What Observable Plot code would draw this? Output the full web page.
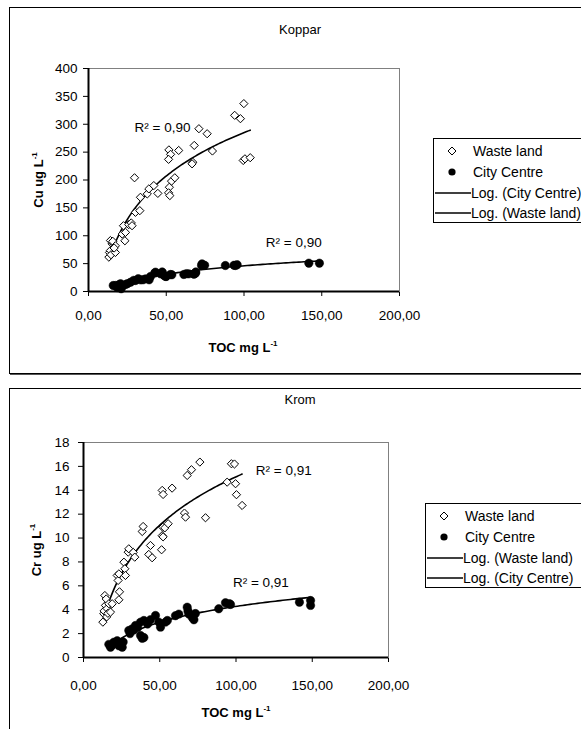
<!DOCTYPE html>
<html><head><meta charset="utf-8">
<script src="https://cdn.jsdelivr.net/npm/d3@7"></script>
<script src="https://cdn.jsdelivr.net/npm/@observablehq/plot@0.6"></script>
<style>
body{margin:0;background:#fff;font-family:"Liberation Sans",Arial,sans-serif;color:#000;}
#root{position:relative;width:581px;height:729px;overflow:hidden;background:#fff;}
.box{position:absolute;border:1px solid #000;box-shadow:1px 1px 0 #555;}
.abs{position:absolute;white-space:nowrap;line-height:1;}
.title{font-size:13px;transform:translate(-50%,-50%);}
.xl{font-size:13px;font-weight:bold;transform:translate(-50%,-50%);}
.yl{font-size:13px;font-weight:bold;transform:translate(-50%,-50%) rotate(-90deg);}
.sup{font-size:8px;vertical-align:6px;line-height:0;}
.legend{position:absolute;border:1px solid #000;background:#fff;width:200px;height:83px;}
.item{position:absolute;font-size:14px;white-space:nowrap;transform:translateY(-50%);line-height:1;}
.plotwrap{position:absolute;left:0;}
</style>
</head><body>
<div id="root">
  <div class="box" style="left:9px;top:7px;width:640px;height:365px;"></div>
  <div class="box" style="left:9px;top:388px;width:640px;height:400px;"></div>
  <div id="p1" class="plotwrap" style="top:0px;"></div>
  <div id="p2" class="plotwrap" style="top:380px;"></div>
</div>
<script>
// ---------- data ----------
const xTicks = [0, 50, 100, 150, 200];
const cuTicks = [0, 50, 100, 150, 200, 250, 300, 350, 400];
const crTicks = [0, 2, 4, 6, 8, 10, 12, 14, 16, 18];

// Koppar (Cu) — [TOC, Cu]
const cuWaste = [[13.1,61.6],[13.5,70],[14.1,73.5],[14.5,66],[15.2,85.5],[14.1,91.4],[15.6,90],[17.3,82],[17.3,70],[16.5,78],
 [21.7,103],[22.5,118],[23.4,91],[23.8,106],[25.9,120],[27.5,123],[28,118],[29.6,204],[30.2,142],[33,145],[33.4,169],
 [37.8,175],[38.8,184],[42,190],[44.6,176],[51.7,254],[52.8,246],[51.5,237],[52,187],[51.5,177],[52.3,172],[53.4,198],
 [55.5,204],[58,253],[67,232],[66.6,229],[68,262],[71,292],[76.3,283],[79.7,252],[94,316],[97.7,310],[99.9,337],
 [99.5,235],[100.6,238],[104,240]];
const cuCity = [[15.9,10.8],[17.4,10.8],[18.5,7],[19.5,12],[20.6,13.8],[21,5],[22,10],[23.8,12.6],[25,14],[27,16.6],
 [29,20],[30.2,19.7],[32,23],[33.4,20.9],[35,21],[36.7,22.7],[39,21],[39.9,27],[42.6,33],[43.1,34.7],[46.3,31.7],
 [47.4,35],[48.5,29],[49.5,27],[50,27],[52.7,30.5],[53.6,30],[61.3,30.5],[63,32],[64.5,31.7],[67.8,31],[68.8,32.9],
 [69,35],[72.7,46.6],[73,49.6],[74.7,47],[88,46.6],[93.6,47],[94.5,46.6],[95.6,48],[141.7,50.8],[148.5,50.8]];
const cuR2 = [{x:29.6, y:294, label:"R² = 0,90"}, {x:114, y:88, label:"R² = 0,90"}];

// Krom (Cr) — [TOC, Cr]
const crWaste = [[12.7,2.96],[13.3,3.66],[13.5,3.9],[14,5.19],[14.4,4.36],[14.9,4.9],[15.2,3.4],[15.5,4.1],[16,3.7],
 [16.6,4.5],[17.7,3.8],[18.8,4.5],[22.1,6.87],[22.7,6.45],[23.2,4.83],[23.2,7.0],[23.6,5.5],[26.5,7.98],[27.1,7.43],
 [27.5,6.87],[29.3,8.82],[29.7,9.1],[32.6,8.8],[33.6,8.4],[38.5,10.55],[39.1,10.97],[42.8,8.63],[43.9,9.38],[45,8.35],
 [51.2,9.02],[51.6,13.99],[52.2,13.65],[52,10.9],[53.3,10.85],[51.6,10.2],[52.2,10.1],[55.5,11.2],[58.1,14.18],
 [66.2,12.09],[66.9,11.75],[68,15.24],[70.8,15.72],[76.3,16.36],[80,11.7],[94.2,14.68],[97,16.22],[99,16.2],
 [99.7,14.55],[100.3,13.63],[104,12.73]];
const crCity = [[16.6,1.1],[17.7,0.86],[18.5,1.0],[19.9,1.28],[21,1.2],[22.1,1.4],[23.2,0.98],[25.4,0.86],[26,1.3],
 [29.7,2.26],[30.5,2.0],[31.9,2.4],[33,2.3],[34.1,2.68],[35.5,2.5],[37.4,2.96],[37.4,1.84],[38.5,1.6],[39.6,3.1],
 [39.6,1.67],[42,2.8],[43.9,3.16],[47.2,3.52],[49.4,2.96],[50.5,2.54],[53.8,2.96],[55,3.1],[60.3,3.5],[62.5,3.63],
 [68,4.21],[68.5,3.9],[69.1,3.63],[71.3,3.35],[72.4,3.16],[73.4,3.68],[88.7,4.08],[93.1,4.58],[95.7,4.5],[96.4,4.44],
 [141.6,4.63],[148.9,4.77],[148.9,4.36]];
const crR2 = [{x:113, y:15.6, label:"R² = 0,91"}, {x:98, y:6.3, label:"R² = 0,91"}];

const legendTop = ["Waste land", "City Centre", "Log. (City Centre)", "Log. (Waste land)"];
const legendBottom = ["Waste land", "City Centre", "Log. (Waste land)", "Log. (City Centre)"];

// ---------- helpers ----------
const fmtX = d => d.toFixed(2).replace(".", ",");
// least-squares logarithmic trend y = a ln(x) + b, derived from the scatter data
function logTrend(pts, n = 80) {
  const X = pts.map(p => Math.log(p[0])), Y = pts.map(p => p[1]);
  const mx = d3.mean(X), my = d3.mean(Y);
  const a = d3.sum(X, (x, i) => (x - mx) * (Y[i] - my)) / d3.sum(X, x => (x - mx) ** 2);
  const b = my - a * mx;
  const [x0, x1] = d3.extent(pts, p => p[0]);
  return d3.range(n + 1).map(i => { const x = x0 + (x1 - x0) * i / n; return [x, a * Math.log(x) + b]; });
}

function makeChart({waste, city, yTicks, r2, m, height, tickPadX, tickPadY}) {
  const yMax = yTicks[yTicks.length - 1];
  return Plot.plot({
    width: 420, height,
    marginLeft: m[0], marginRight: m[1], marginTop: m[2], marginBottom: m[3],
    style: {background: "transparent", fontFamily: "'Liberation Sans', Arial, sans-serif", fontSize: "13.5px", color: "#000", overflow: "visible"},
    x: {domain: [0, 200], ticks: xTicks, tickFormat: fmtX, tickSize: 5, tickPadding: tickPadX, label: null},
    y: {domain: [0, yMax], ticks: yTicks, tickFormat: d => String(d), tickSize: 5, tickPadding: tickPadY, label: null},
    marks: [
      Plot.frame({stroke: "#808080", strokeWidth: 1}),
      Plot.line(logTrend(waste), {x: d => d[0], y: d => d[1], stroke: "#000", strokeWidth: 1.6}),
      Plot.line(logTrend(city), {x: d => d[0], y: d => d[1], stroke: "#000", strokeWidth: 1.6}),
      Plot.dot(waste, {x: d => d[0], y: d => d[1], symbol: "diamond2", r: 3.7, fill: "#fff", stroke: "#000", strokeWidth: 1}),
      Plot.dot(city, {x: d => d[0], y: d => d[1], r: 4.2, fill: "#000", stroke: "#000", strokeWidth: 0.5}),
      Plot.text(r2, {x: "x", y: "y", text: "label", textAnchor: "start", fontSize: 13.5, fill: "#000"}),
      Plot.ruleX([0], {stroke: "#000", strokeWidth: 2}),
      Plot.ruleY([0], {stroke: "#000", strokeWidth: 2}),
    ]
  });
}

document.getElementById("p1").appendChild(makeChart({
  waste: cuWaste, city: cuCity, yTicks: cuTicks, r2: cuR2,
  m: [88, 21, 68, 82], height: 373, tickPadX: 14, tickPadY: 6
}));
document.getElementById("p2").appendChild(makeChart({
  waste: crWaste, city: crCity, yTicks: crTicks, r2: crR2,
  m: [83, 32, 62, 72], height: 349, tickPadX: 18, tickPadY: 9
}));

// ---------- titles, axis labels, legends (HTML text) ----------
const root = document.getElementById("root");
function addDiv(cls, html, x, y) {
  const d = document.createElement("div");
  d.className = "abs " + cls; d.innerHTML = html;
  d.style.left = x + "px"; d.style.top = y + "px";
  root.appendChild(d); return d;
}
const Lsup = 'L<span class="sup">-1</span>';
addDiv("title", "Koppar", 300, 29);
addDiv("xl", "TOC mg " + Lsup, 243, 347);
addDiv("yl", "Cu ug " + Lsup, 38, 180);
addDiv("title", "Krom", 300, 399);
addDiv("xl", "TOC mg " + Lsup, 236, 712);
addDiv("yl", "Cr ug " + Lsup, 36, 550);

function legend(x, y, items) {
  const box = document.createElement("div");
  box.className = "legend"; box.style.left = x + "px"; box.style.top = y + "px";
  const ys = [12, 33, 54, 74];
  items.forEach((name, i) => {
    const row = document.createElement("div");
    row.className = "item"; row.style.top = ys[i] + "px";
    let icon;
    if (name === "Waste land") icon = '<svg width="10" height="10" style="position:absolute;left:13px;top:-5px;overflow:visible"><path d="M5,1L9,5L5,9L1,5Z" fill="#fff" stroke="#000" stroke-width="1"/></svg>';
    else if (name === "City Centre") icon = '<svg width="10" height="10" style="position:absolute;left:13px;top:-5px;overflow:visible"><circle cx="5" cy="5" r="3.6" fill="#000"/></svg>';
    else icon = '<svg width="40" height="4" style="position:absolute;left:1px;top:-2px"><line x1="0" y1="2" x2="36" y2="2" stroke="#000" stroke-width="1.6"/></svg>';
    const tx = name.startsWith("Log") ? 37 : 39;
    row.style.left = "0px";
    row.innerHTML = icon + '<span style="position:absolute;left:' + tx + 'px;top:-7px">' + name + '</span>';
    box.appendChild(row);
  });
  root.appendChild(box);
}
legend(433, 138, legendTop);
legend(425, 503, legendBottom);
</script>
</body></html>
